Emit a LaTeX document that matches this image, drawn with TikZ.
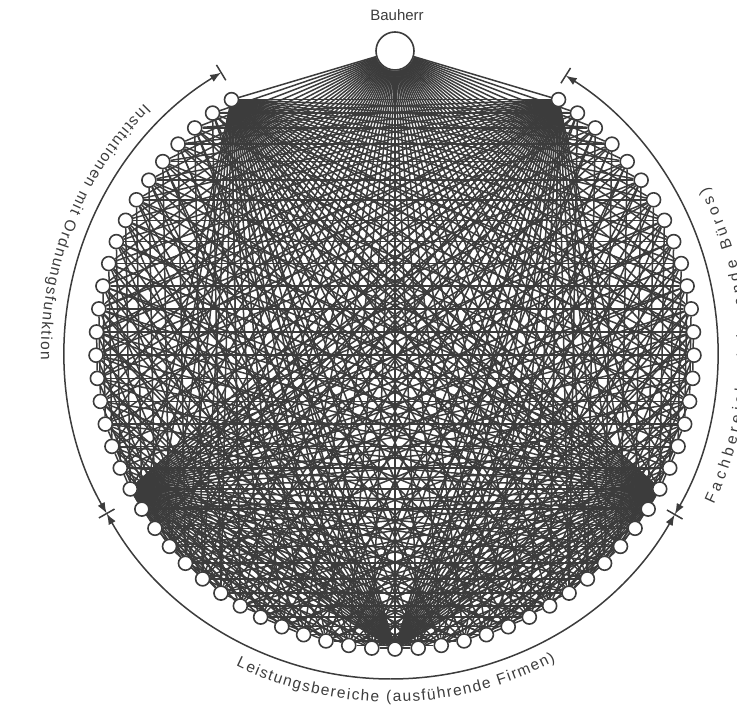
\documentclass[tikz,border=0pt]{standalone}
\usepackage{fontspec}
\setmainfont{Liberation Sans}
\usetikzlibrary{calc,arrows.meta,decorations.text,backgrounds}
\definecolor{ink}{RGB}{60,60,60}
\newcommand{\lblfont}{\fontsize{15pt}{17pt}\selectfont}
\newcommand{\arcfont}{\fontsize{15.5pt}{17pt}\selectfont}
\begin{document}
\begin{tikzpicture}[x=1pt,y=1pt,
  smallnode/.style={circle,draw=ink,fill=white,line width=1.6pt,minimum size=14pt,inner sep=0pt},
  bignode/.style={circle,draw=ink,fill=white,line width=1.6pt,minimum size=38pt,inner sep=0pt},
  link/.style={draw=ink,line width=1.5pt},
  hublink/.style={draw=ink,line width=1.5pt},
  rim/.style={draw=ink,line width=1.5pt},
  rimtip/.style={rim,-{Latex[length=11pt,width=8pt]}},
  lbl/.style={font=\lblfont,text=ink}
]
\useasboundingbox (0,0) rectangle (737,706);
\coordinate (C) at (395,356);
\coordinate (O) at (391,354);
% participants on the circle
\foreach \m in {1,...,67}{
  \pgfmathsetmacro\ang{270+(\m-34)*4.45}
  \node[smallnode] (n\m) at ($(C)+(\ang:299)$) {};
}
\node[bignode] (bh) at ($(C)+(90:299)$) {};
\node[lbl] (bhlabel) at (397,691) {Bauherr};
% connections
\begin{scope}[on background layer]
  \foreach \m in {1,...,67} \draw[hublink] (bh) -- (n\m);
  \foreach \h in {1,20} {\foreach \m in {21,...,67} \draw[hublink] (n\h) -- (n\m);}
  \foreach \h in {48,67} {\foreach \m in {1,...,47} \draw[hublink] (n\h) -- (n\m);}
  \foreach \m in {1,...,20} \draw[hublink] (n34) -- (n\m);
  \foreach \m in {48,...,67} \draw[hublink] (n34) -- (n\m);
  \foreach \c in {-40,-30,...,40}{
    \foreach \i in {1,...,67}{
      \pgfmathtruncatemacro\j{\c+68-\i}
      \ifnum\j>\i \ifnum\j<68 \draw[link] (n\i) -- (n\j); \fi\fi
    }
  }
\end{scope}
% outer arcs with arrow tips and bars
\foreach \a/\b in {165.45/121.3,165.45/209.6,269.9/209.6,269.9/330.2,373.95/330.2,373.95/417.7}{
  \draw[rimtip] ($(O)+(\a:327)$) arc[start angle=\a,end angle=\b,radius=327];
}
\foreach \a in {121.3,209.6,330.2,417.7}{
  \draw[rim] ($(O)+(\a:318)$) -- ($(O)+(\a:336)$);
}
% group labels along the arc
\path[decorate,decoration={text along path,text color=ink,
  text={|\arcfont|Institutionen mit Ordnungsfunktion},text align={fit to path}}]
  ($(O)+(134.8:350)$) arc[start angle=134.8,end angle=181.3,radius=350];
\path[decorate,decoration={text along path,text color=ink,
  text={|\arcfont|Leistungsbereiche (ausführende Firmen)},text align={fit to path}}]
  ($(O)+(243.7:350)$) arc[start angle=243.7,end angle=298,radius=350];
\path[decorate,decoration={text along path,text color=ink,
  text={|\arcfont|Fachbereiche (planende Büros)},text align={fit to path}}]
  ($(O)+(334.7:357)$) arc[start angle=334.7,end angle=387.5,radius=357];
\end{tikzpicture}
\end{document}
